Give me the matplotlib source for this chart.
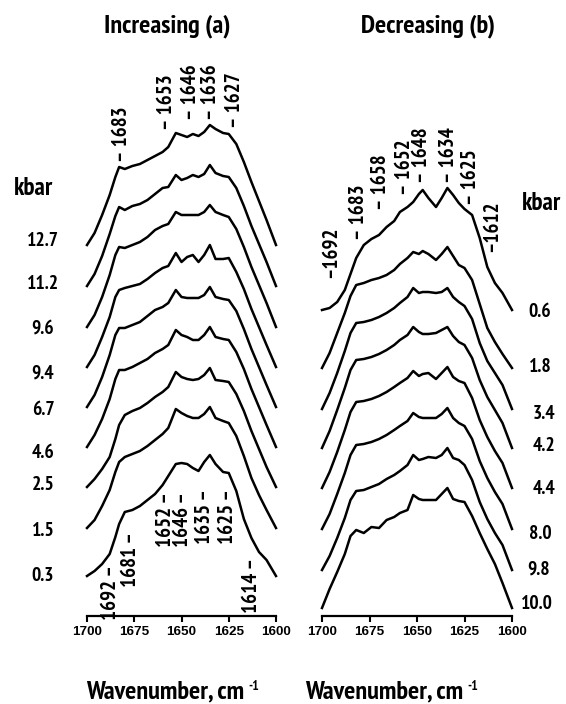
import matplotlib as mpl
mpl.use('Agg')
import matplotlib.pyplot as plt
from matplotlib import font_manager as fm

W, H = 566, 704


def wnum(w):
    return w if isinstance(w, int) else fm.weight_dict.get(w, 400)


# a narrow bold face for the labels (the original uses a condensed grotesque)
NARROW_FILE = None
for fam in ['PT Sans Narrow', 'Liberation Sans Narrow', 'Pragati Narrow', 'Roboto Condensed', 'Archivo Narrow']:
    fl = [f for f in fm.fontManager.ttflist if f.name == fam and f.style == 'normal']
    if fl:
        best = max(fl, key=lambda f: wnum(f.weight))
        if wnum(best.weight) >= 600:
            NARROW_FILE = best.fname
            break


def nfont(size):
    if NARROW_FILE:
        return fm.FontProperties(fname=NARROW_FILE, size=size)
    return fm.FontProperties(family='Liberation Sans', weight='bold', size=size * 0.8)


# ~~~~~~~~~~ data ~~~~~~~~~~ #
wn_inc = [1700, 1696, 1692, 1688, 1685, 1683, 1680, 1676, 1672, 1668, 1664, 1660, 1657, 1653, 1650,
          1647, 1644, 1641, 1638, 1635, 1632, 1628, 1625, 1621, 1617, 1613, 1609, 1605, 1600]
wn_dec = [1700, 1696, 1692, 1688, 1685, 1682, 1678, 1674, 1670, 1666, 1662, 1659, 1655, 1652, 1649,
          1647, 1644, 1640, 1637, 1634, 1631, 1628, 1625, 1621, 1617, 1613, 1609, 1605, 1600]

# increasing pressure (a), top to bottom
inc_kbar = ['12.7', '11.2', '9.6', '9.4', '6.7', '4.6', '2.5', '1.5', '0.3']
inc_offsets = [371, 330, 289, 249, 209, 169, 129, 88, 40]
inc_spectra = [
    [0, 12, 30, 50, 68, 78, 76, 79, 81, 85, 89, 93, 98, 112, 110, 108, 111, 109, 113, 120, 116, 112, 111, 101, 83, 63, 44, 25, 0],
    [0, 12, 30, 52, 70, 79, 76, 80, 82, 86, 92, 98, 99, 111, 106, 108, 111, 109, 112, 121, 113, 110, 109, 98, 80, 60, 42, 24, 0],
    [0, 12, 30, 52, 72, 80, 79, 82, 85, 90, 97, 101, 103, 115, 112, 112, 112, 112, 115, 122, 115, 112, 110, 98, 80, 60, 42, 24, 0],
    [0, 12, 30, 50, 70, 77, 79, 81, 83, 88, 94, 99, 101, 114, 105, 110, 112, 105, 112, 122, 108, 108, 109, 95, 78, 58, 40, 22, 0],
    [0, 12, 30, 52, 72, 79, 79, 82, 85, 91, 97, 100, 104, 117, 110, 109, 109, 109, 112, 120, 110, 108, 107, 96, 78, 58, 40, 22, 0],
    [0, 12, 28, 48, 68, 77, 77, 80, 84, 88, 94, 98, 102, 117, 112, 110, 107, 107, 112, 120, 110, 108, 107, 95, 78, 58, 40, 22, 0],
    [0, 8, 18, 30, 48, 62, 72, 76, 79, 84, 90, 95, 100, 115, 110, 108, 107, 108, 112, 119, 107, 106, 105, 93, 76, 56, 38, 20, 0],
    [0, 8, 22, 38, 56, 66, 71, 74, 77, 82, 88, 94, 100, 119, 115, 112, 110, 110, 114, 121, 110, 107, 105, 92, 72, 50, 33, 18, 0],
    [0, 5, 12, 22, 39, 52, 64, 66, 70, 76, 82, 91, 100, 112, 113, 112, 108, 105, 114, 121, 112, 104, 103, 85, 57, 38, 24, 16, 0],
]

# decreasing pressure (b), top to bottom
dec_kbar = ['0.6', '1.8', '3.4', '4.2', '4.4', '8.0', '9.8', '10.0']
dec_offsets = [306, 248, 207, 168, 128, 87, 46, 8]
dec_spectra = [
    [0, 2, 8, 20, 36, 52, 65, 71, 75, 83, 89, 98, 103, 108, 116, 120, 112, 103, 112, 122, 115, 107, 101, 95, 72, 43, 27, 17, 0],
    [0, 15, 35, 55, 72, 83, 85, 88, 90, 93, 98, 104, 110, 116, 114, 117, 114, 108, 114, 121, 112, 103, 100, 88, 64, 40, 26, 14, 0],
    [0, 16, 36, 58, 76, 86, 87, 89, 92, 96, 101, 106, 112, 121, 116, 117, 117, 116, 117, 121, 112, 107, 103, 90, 66, 48, 36, 24, 0],
    [0, 17, 38, 60, 78, 88, 89, 91, 94, 98, 103, 108, 113, 121, 116, 114, 114, 115, 118, 121, 112, 106, 103, 90, 68, 51, 38, 25, 0],
    [0, 16, 36, 58, 76, 86, 87, 89, 92, 96, 101, 105, 110, 117, 112, 114, 115, 109, 115, 121, 111, 107, 105, 90, 68, 51, 37, 25, 0],
    [0, 15, 35, 56, 74, 84, 85, 87, 90, 94, 99, 103, 108, 116, 112, 111, 111, 111, 115, 121, 111, 106, 103, 90, 68, 51, 37, 25, 0],
    [0, 14, 32, 52, 70, 79, 80, 83, 86, 91, 95, 99, 105, 115, 110, 111, 113, 112, 115, 122, 112, 110, 105, 90, 68, 51, 37, 25, 0],
    [0, 19, 36, 54, 72, 78, 75, 81, 80, 88, 91, 95, 98, 113, 109, 108, 108, 108, 114, 120, 109, 107, 106, 92, 75, 59, 44, 25, 0],
]

# band assignments (label, wavenumber position, height)
inc_top_bands = [('– 1683', 1682.0, 454), ('– 1653', 1657.7, 486), ('– 1646', 1645.5, 496),
                 ('– 1636', 1634.4, 496), ('– 1627', 1621.7, 488)]
inc_bottom_bands = [('1692 –', 1687.8, 51), ('1681 –', 1677.2, 84), ('1652 –', 1658.6, 124),
                    ('1646 –', 1649.3, 124), ('1635 –', 1637.6, 127), ('1625 –', 1625.4, 127),
                    ('1614 –', 1612.7, 58)]
dec_top_bands = [('–1692', 1695.8, 338), ('– 1683', 1681.0, 376), ('– 1658', 1669.0, 406),
                 ('– 1652', 1656.8, 421), ('– 1648', 1647.4, 433), ('– 1634', 1633.2, 433),
                 ('– 1625', 1622.1, 411), ('–1612', 1610.5, 364)]

xticks = [1700, 1675, 1650, 1625, 1600]

# label positions (pixels)
inc_label_y = [239, 282, 327, 372, 408, 451, 483, 529, 574]
dec_label_xy = [(540, 310), (540, 365), (544, 412), (544, 444), (544, 487), (540, 532), (539, 568), (537, 602)]


def fx(x):
    return x / W


def fy(y):
    return 1 - y / H


def setup(ax):
    ax.set_xlim(1700, 1600)
    ax.set_ylim(0, 556)
    for s in ['top', 'left', 'right']:
        ax.spines[s].set_visible(False)
    ax.spines['bottom'].set_linewidth(1.6)
    ax.set_yticks([])
    ax.set_xticks(xticks)
    ax.tick_params(axis='x', direction='out', length=4, width=1.5, pad=3.5, labelsize=9.7)
    for lbl in ax.get_xticklabels():
        lbl.set_fontfamily('Liberation Sans')
        lbl.set_fontweight('bold')
    ax.patch.set_visible(False)


fig = plt.figure(figsize=(W / 100, H / 100), dpi=100)
axL = fig.add_axes([fx(87), (H - 616) / H, 189 / W, 556 / H])
axR = fig.add_axes([fx(322), (H - 616) / H, 190 / W, 556 / H])
setup(axL)
setup(axR)

for spec, off in zip(inc_spectra, inc_offsets):
    axL.plot(wn_inc, [v + off for v in spec], color='black', lw=1.8,
             solid_joinstyle='round', clip_on=False)
for spec, off in zip(dec_spectra, dec_offsets):
    axR.plot(wn_dec, [v + off for v in spec], color='black', lw=1.8,
             solid_joinstyle='round', clip_on=False)

for txt, x, y in inc_top_bands:
    axL.text(x, y, txt, va='bottom', ha='center', rotation=90, fontproperties=nfont(15))
for txt, x, y in inc_bottom_bands:
    axL.text(x, y, txt, va='top', ha='center', rotation=90, fontproperties=nfont(15))
for txt, x, y in dec_top_bands:
    axR.text(x, y, txt, va='bottom', ha='center', rotation=90, fontproperties=nfont(15))

fig.text(fx(167), fy(32), 'Increasing (a)', ha='center', va='baseline', fontproperties=nfont(19))
fig.text(fx(428), fy(32), 'Decreasing (b)', ha='center', va='baseline', fontproperties=nfont(19))
fig.text(fx(14), fy(195), 'kbar', ha='left', va='baseline', fontproperties=nfont(18))
fig.text(fx(522), fy(210), 'kbar', ha='left', va='baseline', fontproperties=nfont(18))

for lab, y in zip(inc_kbar, inc_label_y):
    fig.text(fx(43), fy(y + 7), lab, ha='center', va='baseline', fontproperties=nfont(14))
for lab, (x, y) in zip(dec_kbar, dec_label_xy):
    fig.text(fx(x), fy(y + 7), lab, ha='center', va='baseline', fontproperties=nfont(14))

renderer = fig.canvas.get_renderer()
for x0 in [86, 305]:
    t = fig.text(fx(x0), fy(698), 'Wavenumber, cm', ha='left', va='baseline', fontproperties=nfont(19))
    bb = t.get_window_extent(renderer)
    fig.text((bb.x1 + 4) / W, fy(690), '-1', ha='left', va='baseline', fontproperties=nfont(10))

fig.savefig('out.png', dpi=100)
